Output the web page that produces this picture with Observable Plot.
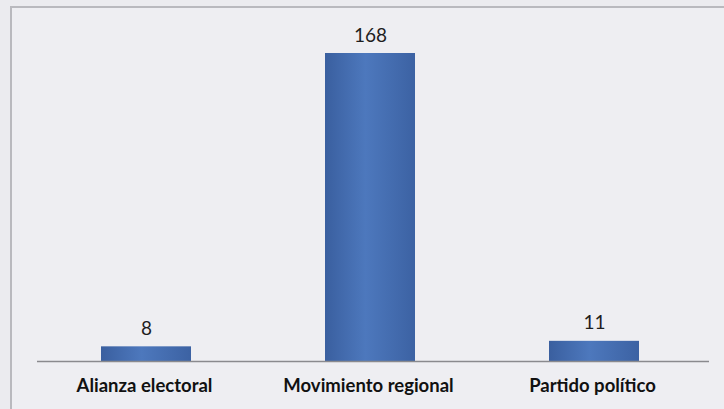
<!DOCTYPE html>
<html>
<head>
<meta charset="utf-8">
<script src="https://cdn.jsdelivr.net/npm/d3@7"></script>
<script src="https://cdn.jsdelivr.net/npm/@observablehq/plot@0.6"></script>
<style>
  html, body { margin: 0; padding: 0; background: #ebebef; width: 724px; height: 409px; overflow: hidden; }
  #frame { position: absolute; left: 10px; top: 6px; width: 760px; height: 460px; border: 2px solid #b9b9be; background: #eeeef2; box-sizing: border-box; }
  #chart { position: absolute; left: 0; top: 0; }
</style>
</head>
<body>
<div id="frame"></div>
<div id="chart"></div>
<script>
const categories = ["Alianza electoral", "Movimiento regional", "Partido político"];
const values = [8, 168, 11];

const data = categories.map((c, i) => ({category: c, value: values[i]}));

const gradientDefs = () => {
  const defs = d3.create("svg:defs");
  const g = defs.append("linearGradient").attr("id", "barGrad").attr("x1", "0").attr("x2", "1").attr("y1", "0").attr("y2", "0");
  g.append("stop").attr("offset", "0%").attr("stop-color", "#3a5f9f");
  g.append("stop").attr("offset", "45%").attr("stop-color", "#4d78bd");
  g.append("stop").attr("offset", "100%").attr("stop-color", "#3c62a3");
  return defs.node();
};

const chart = Plot.plot({
  width: 724,
  height: 409,
  marginLeft: 37,
  marginRight: 15,
  marginTop: 53,
  marginBottom: 48,
  style: {background: "transparent", fontFamily: "Lato, sans-serif"},
  x: {domain: categories, range: [33.5, 705.5], paddingInner: 0.6, paddingOuter: 0.3, label: null},
  y: {domain: [0, 168], axis: null},
  marks: [
    gradientDefs,
    Plot.barY(data, {x: "category", y: "value", fill: "url(#barGrad)"}),
    Plot.ruleY([0], {stroke: "#8a8a8e", strokeWidth: 1.5}),
    Plot.text(data, {x: "category", y: "value", text: d => String(d.value), dy: -12, lineAnchor: "bottom", fontSize: 19, fill: "#1e1e1e"}),
    Plot.axisX({tickSize: 0, tickPadding: 17, dx: -2, fontSize: 18.5, fontWeight: "bold", fill: "#111", label: null})
  ]
});
document.getElementById("chart").appendChild(chart);
</script>
</body>
</html>
